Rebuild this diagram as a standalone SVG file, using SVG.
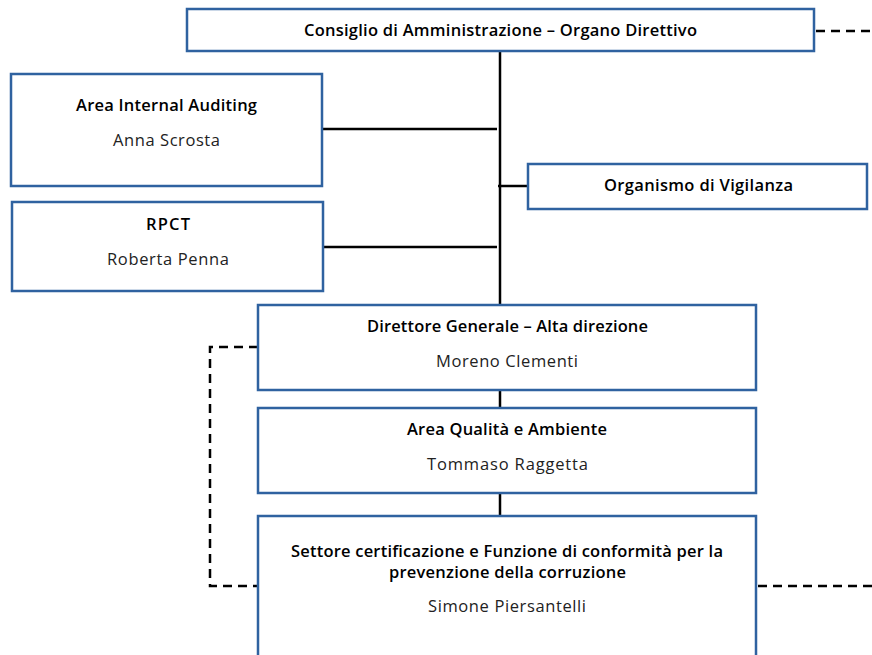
<svg xmlns="http://www.w3.org/2000/svg" width="872" height="655" viewBox="0 0 872 655">
  <style>
    .box { fill: #ffffff; stroke: #2f62a0; stroke-width: 2.5; }
    .ln { fill: none; stroke: #000000; stroke-width: 2.5; }
    .dash { fill: none; stroke: #000000; stroke-width: 2.5; stroke-dasharray: 9 6; }
    .t { font-family: "Open Sans", "Noto Sans", sans-serif; font-weight: 600; font-size: 16.5px; fill: #000000; text-anchor: middle; }
    .n { font-family: "Open Sans", "Noto Sans", sans-serif; font-weight: 400; font-size: 16.5px; fill: #222222; text-anchor: middle; }
  </style>
  <rect width="872" height="655" fill="#ffffff"/>

  <!-- connectors -->
  <g id="connectors">
    <line class="ln" x1="500" y1="51" x2="500" y2="305"/>
    <line class="ln" x1="322" y1="129" x2="497" y2="129"/>
    <line class="ln" x1="323" y1="247" x2="497" y2="247"/>
    <line class="ln" x1="498" y1="186" x2="528" y2="186"/>
    <line class="ln" x1="500" y1="390" x2="500" y2="408"/>
    <line class="ln" x1="500" y1="493" x2="500" y2="516"/>
    <line class="dash" x1="816" y1="31" x2="872" y2="31"/>
    <polyline class="dash" points="258,347 210,347 210,586 258,586"/>
    <line class="dash" x1="758" y1="586" x2="872" y2="586"/>
  </g>

  <g id="cda">
    <rect class="box" x="187" y="9" width="627" height="42"/>
    <text class="t" x="500.5" y="36" textLength="393">Consiglio di Amministrazione – Organo Direttivo</text>
  </g>

  <g id="internal-auditing">
    <rect class="box" x="11" y="74" width="311" height="112"/>
    <text class="t" x="166.5" y="111" textLength="181">Area Internal Auditing</text>
    <text class="n" x="166.5" y="146" textLength="107">Anna Scrosta</text>
  </g>

  <g id="rpct">
    <rect class="box" x="12" y="202" width="311" height="89"/>
    <text class="t" x="168" y="230" textLength="44">RPCT</text>
    <text class="n" x="168" y="265" textLength="122">Roberta Penna</text>
  </g>

  <g id="odv">
    <rect class="box" x="528" y="164" width="339" height="45"/>
    <text class="t" x="698.5" y="191" textLength="189">Organismo di Vigilanza</text>
  </g>

  <g id="direttore">
    <rect class="box" x="258" y="305" width="498" height="85"/>
    <text class="t" x="507.5" y="332" textLength="281">Direttore Generale – Alta direzione</text>
    <text class="n" x="507" y="367" textLength="142">Moreno Clementi</text>
  </g>

  <g id="qualita">
    <rect class="box" x="258" y="408" width="498" height="85"/>
    <text class="t" x="507" y="435" textLength="200">Area Qualità e Ambiente</text>
    <text class="n" x="507.5" y="470" textLength="161">Tommaso Raggetta</text>
  </g>

  <g id="settore">
    <rect class="box" x="258" y="516" width="498" height="160"/>
    <text class="t" x="507" y="557" textLength="432">Settore certificazione e Funzione di conformità per la</text>
    <text class="t" x="507.5" y="578" textLength="237">prevenzione della corruzione</text>
    <text class="n" x="507" y="612" textLength="158">Simone Piersantelli</text>
  </g>
</svg>
